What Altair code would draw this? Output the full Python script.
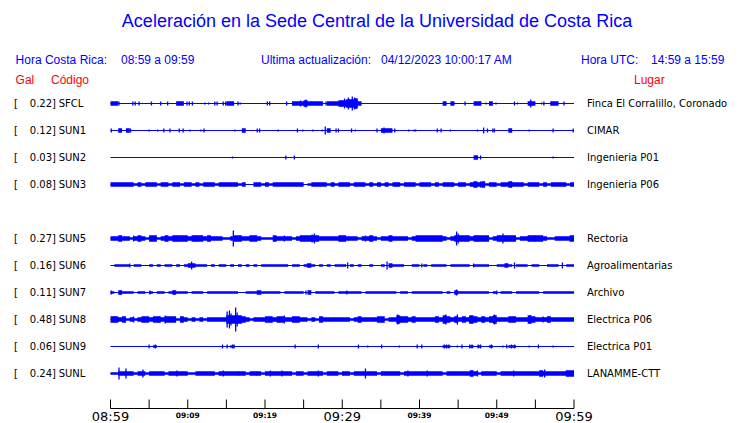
import altair as alt
import pandas as pd

# ---------------- data ----------------
TITLE = "Aceleración en la Sede Central de la Universidad de Costa Rica"
HEADER_BLUE = ["Hora Costa Rica:", "08:59 a 09:59", "Ultima actualización:",
               "04/12/2023 10:00:17 AM", "Hora UTC:", "14:59 a 15:59"]
HEADER_RED = ["Gal", "Código", "Lugar"]

CODES = ["SFCL", "SUN1", "SUN2", "SUN3", "SUN5", "SUN6", "SUN7", "SUN8", "SUN9", "SUNL"]
ROWS = [0, 1, 2, 3, 5, 6, 7, 8, 9, 10]
GAL = ["0.22", "0.12", "0.03", "0.08", "0.27", "0.16", "0.11", "0.48", "0.06", "0.24"]
PLACES = ["Finca El Corralillo, Coronado", "CIMAR", "Ingenieria P01", "Ingenieria P06",
          "Rectoria", "Agroalimentarias", "Archivo", "Electrica P06", "Electrica P01",
          "LANAMME-CTT"]

T_START, T_END = 0, 60          # minutes after 08:59
TICK_MIN = list(range(0, 61, 5))
BIG_MIN = [0, 30, 60]
BIG_TXT = ["08:59", "09:29", "09:59"]
SMALL_MIN = [10, 20, 40, 50]
SMALL_TXT = ["09:09", "09:19", "09:39", "09:49"]

# envelope half-amplitude per half-minute (120 bins)
ENV_SFCL = ("2200000000" "0000000220" "0000000000" "2200000000" "0000000222" "3222202223"
            "3445200000" "0000000000" "0000002020" "0000220020" "0000000022" "0000220000")
ENV_SUN1 = ("0020200000" "0000000000" "0000000000" "0000200000" "0000000000" "0000002000"
            "0000000000" "2220000000" "0000000000" "0000000000" "0002000000" "0000000000")
ENV_SUN2 = ("0000000000" "0000000000" "0000000000" "0000000000" "0000000000" "0000000000"
            "0000000000" "0000000000" "0000000000" "0000200000" "0000000000" "0000000000")
ENV_SUN3 = ("2222221212" "2212212212" "2121222122" "2221200221" "2122222222" "0122221212"
            "2212221212" "1212212221" "2221212221" "2212323122" "1223222122" "2121222212")
ENV_SUN5 = ("2232212321" "3312323333" "2333232221" "1233223321" "1132222123" "3333222223"
            "3222122321" "2232222123" "3333332123" "3332333312" "3333312233" "3321122223")
ENV_SUN6 = ("0111101100" "1010110101" "2211101011" "0101010101" "1111110110" "1210101011"
            "1010100100" "1021110011" "0101111011" "1110111100" "1121011101" "1001110011")
ENV_SUN7 = ("1021110110" "1011012111" "0111011111" "1110011121" "1111011111" "0201111101"
            "1111101111" "1111011011" "1111110102" "1111111101" "0111011111" "1011111111")
ENV_SUN8 = ("3323121233" "2332333132" "1212122222" "4444321222" "3323322332" "2121322222"
            "2212322223" "3122433232" "2222324323" "2324323234" "2223322243" "2223222222")
ENV_SUN9 = ("0000000000" "0100000000" "0000000000" "0100000000" "0000000000" "0000000000"
            "0000000000" "0000000000" "0000001100" "0001010010" "0001100000" "0000000000")
ENV_SUNL = ("1122221221" "2222122222" "1122222122" "2222212221" "2222222122" "1222212221"
            "2212222221" "2222212222" "2222221222" "2223212222" "1222222222" "2322222233")

# isolated spikes: (minute, half-amplitude)
SP_SFCL = [(1.1, 2), (2.9, 2), (3.2, 2), (3.7, 2), (5.3, 2), (6.5, 2), (7.4, 2), (9.9, 2),
           (10.2, 2), (10.6, 2), (12.2, 1), (12.7, 1), (13.5, 2), (13.8, 2), (14.6, 2),
           (14.9, 2), (16.5, 2), (16.8, 1), (20.3, 2), (20.6, 2), (22.8, 2), (24.6, 3),
           (25.3, 4), (27.9, 2), (29.9, 3), (30.3, 5), (30.8, 6), (31.3, 7), (31.6, 6),
           (31.9, 4), (44.5, 1), (45.9, 2), (47.9, 2), (48.6, 1), (49.9, 1), (52.3, 2),
           (52.7, 1), (54.4, 4), (55.8, 1), (56.1, 2), (57.0, 2), (58.7, 2)]
SP_SUN1 = [(0.1, 2), (2.6, 2), (5.0, 1), (6.1, 1), (6.9, 2), (7.7, 2), (8.9, 2), (9.4, 2),
           (10.3, 1), (11.7, 1), (12.1, 2), (16.1, 1), (19.0, 2), (19.3, 2), (21.7, 1),
           (24.2, 2), (24.9, 1), (26.2, 1), (27.4, 1), (27.8, 4), (29.2, 2), (29.5, 2),
           (31.2, 2), (31.7, 1), (34.5, 2), (35.4, 3), (36.8, 2), (38.6, 1), (39.3, 1),
           (39.5, 1), (42.3, 2), (42.8, 2), (44.0, 1), (47.5, 1), (48.3, 3), (48.8, 2),
           (49.5, 2), (49.7, 2), (54.2, 1), (57.3, 2), (59.9, 2)]
SP_SUN2 = [(15.8, 1), (22.7, 2), (23.8, 2), (47.5, 2), (47.9, 2), (57.3, 1)]
SP_SUN3 = [(37.0, 2), (47.1, 3), (47.9, 3), (51.9, 3)]
SP_SUN5 = [(3.0, 3), (8.5, 3), (11.0, 3), (15.9, 8), (22.5, 3), (26.1, 4), (26.4, 5),
           (33.0, 3), (44.8, 7), (45.0, 5), (47.5, 3), (50.8, 5), (51.2, 3), (55.0, 3),
           (59.5, 3)]
SP_SUN6 = [(2.5, 2), (10.5, 4), (25.5, 2), (30.7, 3), (35.8, 4), (40.3, 2), (47.0, 2),
           (52.3, 3), (58.5, 3)]
SP_SUN7 = [(0.1, 2), (1.3, 2), (5.1, 2), (8.2, 2), (19.0, 2), (25.3, 2), (30.6, 2),
           (44.8, 3), (50.0, 2)]
SP_SUN8 = [(0.5, 3), (3.0, 3), (6.3, 3), (7.1, 4), (15.1, 8), (15.4, 9), (15.6, 6),
           (16.2, 12), (16.4, 7), (22.5, 4), (37.2, 5), (43.4, 5), (44.9, 5), (46.5, 4),
           (49.7, 5), (54.3, 4), (56.0, 3)]
SP_SUN9 = [(5.0, 2), (5.8, 2), (14.5, 2), (15.1, 2), (15.8, 2), (16.0, 2), (23.9, 2),
           (26.9, 2), (32.1, 2), (33.3, 1), (35.1, 2), (37.4, 1), (39.7, 2), (40.3, 2),
           (43.2, 2), (43.5, 2), (43.8, 2), (44.9, 1), (45.5, 2), (46.5, 2), (46.8, 2),
           (47.6, 2), (47.9, 2), (49.3, 2), (50.8, 1), (51.3, 2), (51.9, 2), (52.3, 2),
           (54.2, 1), (55.4, 2), (57.3, 1)]
SP_SUNL = [(1.1, 6), (2.0, 5), (4.2, 4), (8.6, 3), (14.6, 3), (16.6, 2), (19.0, 2),
           (20.7, 3), (22.2, 3), (26.9, 3), (30.1, 2), (33.0, 5), (38.5, 3), (41.0, 3),
           (47.5, 3), (52.2, 3), (56.2, 4), (59.0, 3)]

ENV = dict(zip(CODES, [ENV_SFCL, ENV_SUN1, ENV_SUN2, ENV_SUN3, ENV_SUN5, ENV_SUN6,
                       ENV_SUN7, ENV_SUN8, ENV_SUN9, ENV_SUNL]))
SPIKES = dict(zip(CODES, [SP_SFCL, SP_SUN1, SP_SUN2, SP_SUN3, SP_SUN5, SP_SUN6,
                          SP_SUN7, SP_SUN8, SP_SUN9, SP_SUNL]))

# ---------------- layout ----------------
BLUE, RED = "#0000ff", "#ff0000"
W, H = 463.5, 319
PL, PT, PR, PB = 102.5, 82, 158, 14
OX, OY = 8 + PL, 8 + PT
ROW_PX = 27.0
ROW0 = 13.5


def px(x):
    return x - OX


def py(y):
    return y - OY


xs = alt.Scale(domain=[T_START, T_END], nice=False, zero=False)
ys = alt.Scale(domain=[-ROW0 / ROW_PX, (H - ROW0) / ROW_PX], nice=False, zero=False, reverse=True)

rows_df = pd.DataFrame({"code": CODES, "row": ROWS, "gal": [g + "]" for g in GAL],
                        "place": PLACES, "t0": T_START, "t1": T_END})

env_rows = []
for code, row in zip(CODES, ROWS):
    s = ENV[code]
    assert len(s) == 120, (code, len(s))
    vals = [int(c) for c in s]
    pts = [(k * 0.5, v) for k, v in enumerate(vals)] + [(float(T_END), vals[-1])]
    for t, v in pts:
        h = (v + 0.3) / ROW_PX if v > 0 else 0.0
        env_rows.append({"code": code, "t": t, "lo": row - h, "hi": row + h})
env_df = pd.DataFrame(env_rows)

sp_rows = []
for code, row in zip(CODES, ROWS):
    for t, a in SPIKES[code]:
        sp_rows.append({"code": code, "t": t, "lo": row - a / ROW_PX, "hi": row + a / ROW_PX})
sp_df = pd.DataFrame(sp_rows)

X = lambda f: alt.X(f, scale=xs, axis=None)
Y = lambda f: alt.Y(f, scale=ys, axis=None)

baselines = alt.Chart(rows_df).mark_rule(color=BLUE, strokeWidth=1).encode(
    x=X("t0:Q"), x2="t1:Q", y=Y("row:Q"))

envelope = alt.Chart(env_df).mark_area(color=BLUE, interpolate="step-after", opacity=1).encode(
    x=X("t:Q"), y=Y("hi:Q"), y2="lo:Q", detail="code:N")

spikes = alt.Chart(sp_df).mark_rule(color=BLUE, strokeWidth=1.3).encode(
    x=X("t:Q"), y=Y("lo:Q"), y2="hi:Q")

ticks = alt.Chart(pd.DataFrame({"t": TICK_MIN})).mark_rule(color="black", strokeWidth=1).encode(
    x=X("t:Q"), y=alt.value(H - 9.5), y2=alt.value(H - 0.5))
axis_line = alt.Chart(pd.DataFrame({"a": [T_START], "b": [T_END]})).mark_rule(
    color="black", strokeWidth=1).encode(x=X("a:Q"), x2="b:Q", y=alt.value(H - 0.5))

big_lab = alt.Chart(pd.DataFrame({"t": BIG_MIN, "s": BIG_TXT})).mark_text(
    font="DejaVu Sans", fontSize=13, align="center", baseline="middle", color="black").encode(
    x=X("t:Q"), y=alt.value(py(417)), text="s:N")
small_lab = alt.Chart(pd.DataFrame({"t": SMALL_MIN, "s": SMALL_TXT})).mark_text(
    font="DejaVu Sans", fontSize=7.5, fontWeight="bold", align="center", baseline="middle",
    color="black").encode(x=X("t:Q"), y=alt.value(py(416)), text="s:N")

lbl = dict(font="DejaVu Sans", fontSize=10, baseline="middle", color="black")
bracket = alt.Chart(rows_df).mark_text(text="[", align="left", **lbl).encode(
    x=alt.value(px(14)), y=Y("row:Q"))
galtxt = alt.Chart(rows_df).mark_text(align="right", **lbl).encode(
    x=alt.value(px(56)), y=Y("row:Q"), text="gal:N")
codetxt = alt.Chart(rows_df).mark_text(align="left", **lbl).encode(
    x=alt.value(px(58.7)), y=Y("row:Q"), text="code:N")
placetxt = alt.Chart(rows_df).mark_text(align="left", **lbl).encode(
    x=alt.value(px(587)), y=Y("row:Q"), text="place:N")


def label(text, x, y, size=12, color=BLUE, align="left"):
    return alt.Chart(pd.DataFrame({"s": [text]})).mark_text(
        font="Liberation Sans", fontSize=size, color=color, align=align,
        baseline="middle").encode(x=alt.value(px(x)), y=alt.value(py(y)), text="s:N")


BLUE_POS = [(15.6, 60), (121, 60), (261, 60), (381, 60), (581, 60), (651, 60)]
RED_POS = [(15.6, 80), (51, 80), (634, 80)]
headers = [label(TITLE, 377, 22, size=18, align="center")]
headers += [label(t, x, y) for t, (x, y) in zip(HEADER_BLUE, BLUE_POS)]
headers += [label(t, x, y, color=RED) for t, (x, y) in zip(HEADER_RED, RED_POS)]

chart = alt.layer(
    baselines, envelope, spikes, axis_line, ticks, big_lab, small_lab,
    bracket, galtxt, codetxt, placetxt, *headers
).properties(
    width=W, height=H,
    autosize=alt.AutoSizeParams(type="none"),
    padding={"left": PL, "top": PT, "right": PR, "bottom": PB},
    background="white",
).configure_view(stroke=None)

chart.save("out.html", embed_options={"renderer": "svg", "actions": False})
